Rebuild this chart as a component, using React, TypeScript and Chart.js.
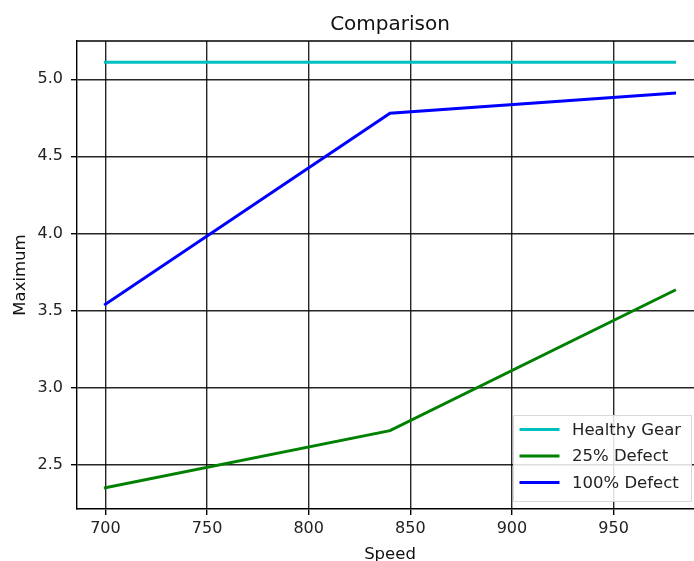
import React, { useEffect, useRef } from "react";
import { Chart, registerables } from "chart.js";

Chart.register(...registerables);

// ---- data ----
const speeds = [700, 840, 980];
const healthyGear = [5.11, 5.11, 5.11];
const defect25 = [2.35, 2.72, 3.63];
const defect100 = [3.54, 4.78, 4.91];
const seriesLabels = ["Healthy Gear", "25% Defect", "100% Defect"];
const xTickValues = [700, 750, 800, 850, 900, 950];
const yTickValues = [2.5, 3.0, 3.5, 4.0, 4.5, 5.0];
const titleText = "Comparison";
const xAxisLabel = "Speed";
const yAxisLabel = "Maximum";

// ---- styles / layout ----
const W = 694;
const H = 561;
const PLOT_LEFT = 77;
const FULL_PLOT_RIGHT = 703; // the original axes extend slightly past the picture edge
const FONT = '"DejaVu Sans", sans-serif';
const COLORS = ["#00bfbf", "#008000", "#0000ff"];

function withMargin(values: number[], frac = 0.05) {
  const lo = Math.min(...values);
  const hi = Math.max(...values);
  const pad = (hi - lo) * frac;
  return { min: lo - pad, max: hi + pad };
}

const overlayPlugin = {
  id: "overlay",
  afterDraw(chart: any) {
    const { ctx, chartArea: ca } = chart;
    ctx.save();
    // top spine
    ctx.strokeStyle = "#000";
    ctx.lineWidth = 1.4;
    ctx.beginPath();
    ctx.moveTo(ca.left, ca.top);
    ctx.lineTo(ca.right, ca.top);
    ctx.stroke();

    // title and axis labels, centred on the full axes width
    const cx = (PLOT_LEFT + FULL_PLOT_RIGHT) / 2;
    ctx.fillStyle = "#111";
    ctx.textAlign = "center";
    ctx.textBaseline = "alphabetic";
    ctx.font = `20px ${FONT}`;
    ctx.fillText(titleText, cx, ca.top - 11);

    ctx.font = `16.5px ${FONT}`;
    ctx.fillText(xAxisLabel, cx, ca.bottom + 50);
    ctx.save();
    ctx.translate(25, (ca.top + ca.bottom) / 2);
    ctx.rotate(-Math.PI / 2);
    ctx.fillText(yAxisLabel, 0, 0);
    ctx.restore();

    // legend (inside, lower right)
    const boxW = 178;
    const boxH = 86;
    const right = FULL_PLOT_RIGHT - 12;
    const bottom = ca.bottom - 8;
    const left = right - boxW;
    const top = bottom - boxH;
    ctx.beginPath();
    ctx.rect(left + 0.5, top + 0.5, boxW, boxH);
    ctx.fillStyle = "rgba(255,255,255,0.85)";
    ctx.fill();
    ctx.strokeStyle = "#d8d8d8";
    ctx.lineWidth = 1;
    ctx.stroke();

    ctx.font = `16.5px ${FONT}`;
    ctx.textAlign = "left";
    ctx.textBaseline = "middle";
    chart.data.datasets.forEach((ds: any, i: number) => {
      const y = top + 14.5 + i * 26.5;
      ctx.strokeStyle = ds.borderColor;
      ctx.lineWidth = 3;
      ctx.lineCap = "square";
      ctx.beginPath();
      ctx.moveTo(left + 8, y);
      ctx.lineTo(left + 45, y);
      ctx.stroke();
      ctx.fillStyle = "#222";
      ctx.fillText(ds.label, left + 59, y + 1);
    });
    ctx.restore();
  },
};

export default function App() {
  const ref = useRef<HTMLCanvasElement | null>(null);

  useEffect(() => {
    if (!ref.current) return;
    const xr = withMargin(speeds);
    // only the part of the axes that falls inside the picture is shown
    const xVisibleMax =
      xr.min + ((xr.max - xr.min) * (W - PLOT_LEFT)) / (FULL_PLOT_RIGHT - PLOT_LEFT);
    const yr = withMargin([...healthyGear, ...defect25, ...defect100]);
    const series = [healthyGear, defect25, defect100];

    const chart = new Chart(ref.current, {
      type: "line",
      data: {
        datasets: series.map((vals, i) => ({
          label: seriesLabels[i],
          data: speeds.map((x, j) => ({ x, y: vals[j] })),
          borderColor: COLORS[i],
          backgroundColor: COLORS[i],
          borderWidth: 3,
          borderCapStyle: "square" as const,
          pointRadius: 0,
          tension: 0,
          fill: false,
        })),
      },
      options: {
        responsive: false,
        animation: false,
        devicePixelRatio: 1,
        layout: { padding: { top: 41, left: 0, right: 0, bottom: 0 } },
        plugins: {
          legend: { display: false },
          title: { display: false },
          tooltip: { enabled: false },
        },
        scales: {
          x: {
            type: "linear",
            min: xr.min,
            max: xVisibleMax,
            afterBuildTicks: (scale: any) => {
              scale.ticks = xTickValues.map((v) => ({ value: v }));
            },
            afterFit: (scale: any) => {
              scale.height = 52;
              scale.paddingRight = 0;
              scale.paddingLeft = 0;
            },
            ticks: {
              autoSkip: false,
              maxRotation: 0,
              padding: 4,
              color: "#222",
              font: { family: FONT, size: 16 },
              callback: (v: any) => String(v),
            },
            grid: {
              color: "rgba(0,0,0,0.85)",
              lineWidth: 1.4,
              tickLength: 6,
              tickColor: "#000",
            },
            border: { display: true, color: "#000", width: 1.4 },
          },
          y: {
            type: "linear",
            min: yr.min,
            max: yr.max,
            afterBuildTicks: (scale: any) => {
              scale.ticks = yTickValues.map((v) => ({ value: v }));
            },
            afterFit: (scale: any) => {
              scale.width = PLOT_LEFT;
            },
            ticks: {
              autoSkip: false,
              padding: 8,
              color: "#222",
              font: { family: FONT, size: 16 },
              callback: (v: any) => Number(v).toFixed(1),
            },
            grid: {
              color: "rgba(0,0,0,0.85)",
              lineWidth: 1.4,
              tickLength: 6,
              tickColor: "#000",
            },
            border: { display: true, color: "#000", width: 1.4 },
          },
        },
      },
      plugins: [overlayPlugin],
    });
    return () => chart.destroy();
  }, []);

  return (
    <div
      style={{
        position: "fixed",
        left: 0,
        top: 0,
        width: W,
        height: H,
        overflow: "hidden",
        background: "#fff",
      }}
    >
      <canvas ref={ref} width={W} height={H} style={{ width: W, height: H, display: "block" }} />
    </div>
  );
}
